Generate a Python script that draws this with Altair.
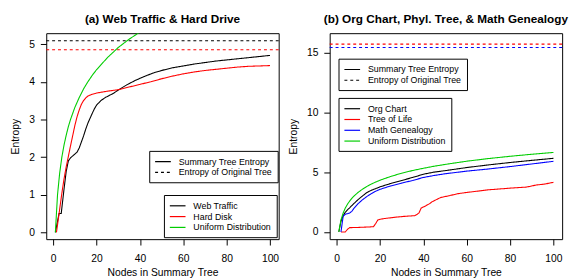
import altair as alt
import pandas as pd

FONT = "Liberation Sans"
KINDS = ["Summary Tree Entropy", "Entropy of Original Tree"]

# ---------- panel (a) ----------
web_n = [1, 2.7, 3.7, 5, 6, 7, 8, 9, 10, 11, 12, 13, 14, 15, 16, 17, 18, 19, 20, 22, 24, 26, 28, 30,
         34, 38, 42, 46, 50, 55, 60, 65, 70, 75, 80, 85, 90, 95, 100]
web_v = [0, 0.5, 0.5, 1.15, 1.62, 1.9, 1.98, 2.03, 2.08, 2.13, 2.24, 2.4, 2.56, 2.74, 2.9, 3.03, 3.16,
         3.28, 3.38, 3.5, 3.58, 3.64, 3.7, 3.78, 3.92, 4.04, 4.14, 4.23, 4.3, 4.37, 4.42, 4.47, 4.51,
         4.55, 4.58, 4.61, 4.64, 4.67, 4.70]

hd_n = [1.5, 2, 3, 4, 5, 6, 7, 8, 9, 10, 11, 12, 13, 14, 15, 16, 18, 20, 22, 25, 30, 35, 40, 45, 50,
        55, 60, 65, 70, 75, 80, 85, 90, 95, 100]
hd_v = [0, 0.2, 0.62, 1.04, 1.42, 1.74, 2.02, 2.3, 2.57, 2.84, 3.07, 3.25, 3.4, 3.5, 3.57, 3.62, 3.67,
        3.7, 3.72, 3.75, 3.79, 3.86, 3.93, 4.0, 4.08, 4.15, 4.21, 4.26, 4.3, 4.33, 4.36, 4.39, 4.41,
        4.42, 4.43]

# uniform distribution
uni_n = [1, 2, 3, 4, 5, 6, 7, 8, 10, 12, 14, 16, 18, 20, 25, 30, 35, 40, 45, 50, 60, 70, 80, 90, 100]
uni_v = [0, 1, 1.58, 2, 2.32, 2.58, 2.81, 3, 3.32, 3.58, 3.81, 4, 4.17, 4.32, 4.64, 4.91, 5.13, 5.32,
         5.49, 5.64, 5.91, 6.13, 6.32, 6.49, 6.64]

a_series = ["Web Traffic", "Hard Disk", "Uniform Distribution"]
a_colors = ["#000000", "#ff0000", "#00cd00"]
a_orig_series = ["Web Traffic", "Hard Disk"]
a_orig_v = [5.09, 4.85]

# ---------- panel (b) ----------
org_n = [1, 2, 3, 4, 5, 6, 7, 8, 10, 12, 14, 16, 18, 20, 25, 30, 35, 40, 45, 50, 60, 70, 80, 90, 100]
org_v = [0, 0.9, 1.35, 1.65, 1.85, 2.02, 2.2, 2.38, 2.72, 3.02, 3.3, 3.48, 3.62, 3.77, 4.05, 4.3,
         4.55, 4.82, 5.0, 5.12, 5.38, 5.6, 5.8, 5.98, 6.15]

tol_n = [2, 4, 5, 6, 10, 14, 17, 18, 19, 20, 22, 27, 31, 36, 37, 38, 39, 41, 43, 44, 46, 48, 52, 56,
         60, 70, 80, 87, 89, 92, 96, 100]
tol_v = [0, 0, 0.22, 0.36, 0.38, 0.41, 0.44, 0.7, 1.0, 1.06, 1.12, 1.23, 1.3, 1.36, 1.45, 1.6, 2.0,
         2.17, 2.38, 2.52, 2.7, 2.88, 3.03, 3.2, 3.3, 3.52, 3.66, 3.74, 3.8, 3.92, 4.0, 4.15]

math_n = [2, 3, 4, 5, 6, 7, 8, 10, 12, 14, 16, 18, 20, 25, 30, 35, 40, 45, 50, 60, 70, 80, 90, 100]
math_v = [0, 1.3, 1.48, 1.53, 1.58, 1.72, 1.98, 2.38, 2.7, 2.97, 3.2, 3.4, 3.56, 3.85, 4.08, 4.3,
          4.55, 4.72, 4.86, 5.08, 5.26, 5.46, 5.68, 5.9]

b_series = ["Org Chart", "Tree of Life", "Math Genealogy", "Uniform Distribution"]
b_colors = ["#000000", "#ff0000", "#0000ff", "#00cd00"]
b_orig_series = ["Tree of Life", "Math Genealogy"]
b_orig_v = [15.69, 15.41]

x_ticks = [0, 20, 40, 60, 80, 100]

LINE_SYMBOL = "M-1.6,0L1.6,0"


def series_df(pairs):
    rows = []
    for name, ns, vs in pairs:
        for n, v in zip(ns, vs):
            rows.append({"series": name, "n": n, "v": v, "kind": KINDS[0]})
    return pd.DataFrame(rows)


def orig_df(names, vals):
    return pd.DataFrame({"series": names, "v": vals, "kind": [KINDS[1]] * len(names)})


def legend(x, y, black=False):
    opts = dict(
        orient="none", legendX=x, legendY=y, title=None,
        strokeColor="black", fillColor="white", padding=5, cornerRadius=0,
        labelFont=FONT, labelFontSize=9, labelColor="black", labelOffset=10,
        symbolType=LINE_SYMBOL, symbolStrokeWidth=1.2, symbolSize=100, rowPadding=0,
        symbolOffset=3,
    )
    if black:
        opts["symbolStrokeColor"] = "black"
    return alt.Legend(**opts)


def panel(title, lines, origs, names, colors, ydom, yticks, l1, l2):
    color = alt.Color("series:N", scale=alt.Scale(domain=names, range=colors),
                      legend=legend(*l2))
    dash = alt.StrokeDash("kind:N", scale=alt.Scale(domain=KINDS, range=[[1, 0], [3, 3]]),
                          legend=legend(*l1, black=True))
    x = alt.X("n:Q", scale=alt.Scale(domain=[-3.2, 104], nice=False, zero=False),
              axis=alt.Axis(values=x_ticks, title="Nodes in Summary Tree"))
    y = alt.Y("v:Q", scale=alt.Scale(domain=ydom, nice=False, zero=False),
              axis=alt.Axis(values=yticks, title="Entropy"))
    ln = alt.Chart(lines).mark_line(clip=True, strokeWidth=1.1).encode(
        x=x, y=y, color=color, strokeDash=dash)
    rl = alt.Chart(origs).mark_rule(strokeWidth=1.1).encode(
        y=alt.Y("v:Q"), color=color, strokeDash=dash)
    return alt.layer(rl, ln).properties(
        width=237, height=210,
        title=alt.TitleParams(title, frame="group", anchor="middle"),
    )


left = panel(
    "(a) Web Traffic & Hard Drive",
    series_df([("Web Traffic", web_n, web_v), ("Hard Disk", hd_n, hd_v),
               ("Uniform Distribution", uni_n, uni_v)]),
    orig_df(a_orig_series, a_orig_v),
    a_series, a_colors, [-0.18, 5.29], [0, 1, 2, 3, 4, 5],
    (105, 120), (120, 165),
)
right = panel(
    "(b) Org Chart, Phyl. Tree, & Math Genealogy",
    series_df([("Org Chart", org_n, org_v), ("Tree of Life", tol_n, tol_v),
               ("Math Genealogy", math_n, math_v), ("Uniform Distribution", uni_n, uni_v)]),
    orig_df(b_orig_series, b_orig_v),
    b_series, b_colors, [-0.6, 16.6], [0, 5, 10, 15],
    (9, 26), (9, 66),
)

chart = alt.hconcat(left, right, spacing=7).resolve_scale(
    color="independent", strokeDash="independent", x="independent", y="independent"
).resolve_legend(color="independent", strokeDash="independent").properties(
    padding={"left": 2, "top": 2, "right": 0, "bottom": 0}
).configure_view(stroke="black", strokeWidth=1).configure_axis(
    domain=False, grid=False, tickColor="black", tickSize=6, tickWidth=1,
    labelFont=FONT, labelFontSize=10.5, labelColor="black",
    titleFont=FONT, titleFontSize=10.5, titleFontWeight="normal", titleColor="black",
).configure_axisY(labelPadding=6, titlePadding=8).configure_axisX(
    labelPadding=9, titlePadding=4
).configure_title(font=FONT, fontSize=12, fontWeight="bold", color="black", offset=7)

chart.save("out.html", embed_options={"renderer": "svg", "actions": False})
